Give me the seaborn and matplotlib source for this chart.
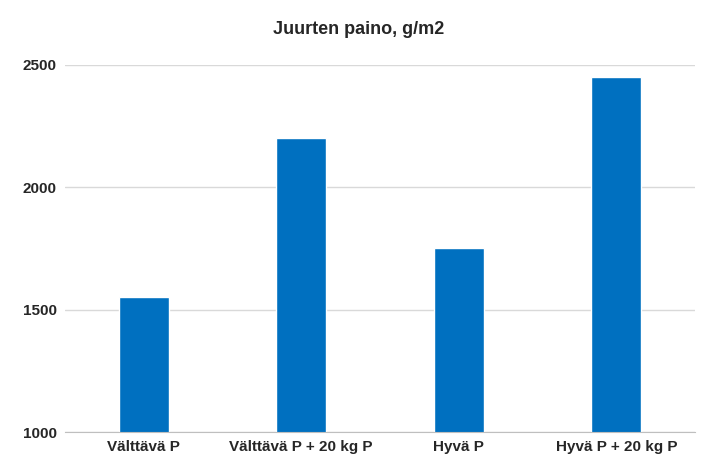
import matplotlib
matplotlib.use("Agg")
import matplotlib.pyplot as plt
import seaborn as sns
import pandas as pd

categories = ["Välttävä P", "Välttävä P + 20 kg P", "Hyvä P", "Hyvä P + 20 kg P"]
values = [1550, 2200, 1750, 2450]
yticks = [1000, 1500, 2000, 2500]

sns.set_style("white")
plt.rcParams['font.family'] = ['Liberation Sans', 'DejaVu Sans']

df = pd.DataFrame({"cat": categories, "val": values})
fig = plt.figure(figsize=(7.18, 4.74), dpi=100)
ax = fig.add_axes([0.0905, 0.0886, 0.8775, 0.7744])
sns.barplot(data=df, x="cat", y="val", color="#0070C0", saturation=1, width=0.32, ax=ax)
ax.set_ylim(1000, 2500)
ax.set_yticks(yticks)
ax.set_yticklabels([str(t) for t in yticks], fontsize=11, fontweight="bold")
ax.set_xticks(range(len(categories)))
ax.set_xticklabels(categories, fontsize=11, fontweight="bold")
ax.tick_params(length=0, pad=6)
ax.yaxis.grid(True, color="#D9D9D9", linewidth=1)
ax.set_axisbelow(True)
for s in ["top", "right", "left"]:
    ax.spines[s].set_visible(False)
ax.spines["bottom"].set_color("#BFBFBF")
ax.set_xlabel("")
ax.set_ylabel("")
fig.text(0.5, 0.937, "Juurten paino, g/m2", ha="center", va="center", fontsize=13, fontweight="bold")
fig.savefig("out.png", dpi=100)
